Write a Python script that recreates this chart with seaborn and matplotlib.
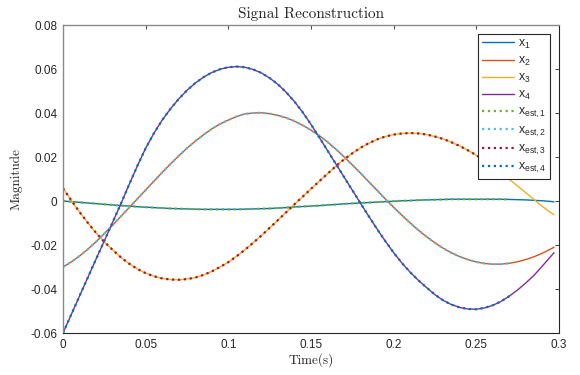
import matplotlib
matplotlib.use("Agg")
import matplotlib.pyplot as plt
import seaborn as sns

# sample times (s): every 5 ms, last sample at 0.297 s
t = [round(i * 0.005, 3) for i in range(60)] + [0.297]

x1 = [0.0000, -0.0003, -0.0006, -0.0009, -0.0012, -0.0015, -0.0018, -0.0021, -0.0023, -0.0026,
      -0.0028, -0.0030, -0.0032, -0.0034, -0.0035, -0.0036, -0.0037, -0.0038, -0.0038, -0.0038,
      -0.0038, -0.0038, -0.0037, -0.0036, -0.0035, -0.0034, -0.0032, -0.0030, -0.0027, -0.0025,
      -0.0023, -0.0021, -0.0018, -0.0016, -0.0013, -0.0011, -0.0009, -0.0007, -0.0005, -0.0003,
      -0.0001, 0.0001, 0.0002, 0.0004, 0.0005, 0.0006, 0.0007, 0.0008, 0.0008, 0.0008,
      0.0008, 0.0008, 0.0008, 0.0008, 0.0007, 0.0006, 0.0005, 0.0003, 0.0001, -0.0002,
      -0.0004]

x2 = [-0.0300, -0.0277, -0.0250, -0.0219, -0.0185, -0.0148, -0.0110, -0.0070, -0.0030, 0.0010,
      0.0050, 0.0090, 0.0130, 0.0168, 0.0205, 0.0240, 0.0272, 0.0301, 0.0328, 0.0350,
      0.0368, 0.0384, 0.0396, 0.0400, 0.0401, 0.0397, 0.0389, 0.0378, 0.0363, 0.0344,
      0.0322, 0.0297, 0.0268, 0.0236, 0.0201, 0.0164, 0.0126, 0.0087, 0.0048, 0.0009,
      -0.0029, -0.0065, -0.0100, -0.0133, -0.0163, -0.0190, -0.0215, -0.0236, -0.0253, -0.0267,
      -0.0277, -0.0284, -0.0287, -0.0287, -0.0283, -0.0276, -0.0266, -0.0253, -0.0237, -0.0218,
      -0.0210]

x3 = [0.0058, 0.0003, -0.0050, -0.0099, -0.0145, -0.0186, -0.0222, -0.0256, -0.0285, -0.0309,
      -0.0328, -0.0342, -0.0352, -0.0357, -0.0358, -0.0355, -0.0348, -0.0336, -0.0320, -0.0300,
      -0.0278, -0.0251, -0.0222, -0.0190, -0.0157, -0.0122, -0.0087, -0.0051, -0.0015, 0.0020,
      0.0055, 0.0090, 0.0124, 0.0158, 0.0189, 0.0217, 0.0242, 0.0263, 0.0280, 0.0293,
      0.0302, 0.0307, 0.0309, 0.0307, 0.0302, 0.0293, 0.0282, 0.0267, 0.0250, 0.0230,
      0.0208, 0.0183, 0.0157, 0.0128, 0.0098, 0.0068, 0.0037, 0.0006, -0.0025, -0.0053,
      -0.0062]

x4 = [-0.0600, -0.0516, -0.0432, -0.0348, -0.0264, -0.0181, -0.0097, -0.0013, 0.0075, 0.0160,
      0.0240, 0.0308, 0.0368, 0.0419, 0.0464, 0.0503, 0.0536, 0.0563, 0.0584, 0.0599,
      0.0608, 0.0611, 0.0608, 0.0598, 0.0582, 0.0559, 0.0530, 0.0494, 0.0452, 0.0403,
      0.0348, 0.0289, 0.0229, 0.0169, 0.0109, 0.0049, -0.0011, -0.0070, -0.0128, -0.0183,
      -0.0235, -0.0282, -0.0324, -0.0361, -0.0394, -0.0426, -0.0452, -0.0471, -0.0484, -0.0491,
      -0.0492, -0.0486, -0.0474, -0.0456, -0.0432, -0.0404, -0.0372, -0.0337, -0.0295, -0.0252,
      -0.0235]

# the estimates follow the signals up to t = 0.27 s
n_est = 55

signals = [x1, x2, x3, x4]
labels = ["x$_{1}$", "x$_{2}$", "x$_{3}$", "x$_{4}$"]
est_labels = ["x$_{est,1}$", "x$_{est,2}$", "x$_{est,3}$", "x$_{est,4}$"]
colors = ["#0072BD", "#D95319", "#EDB120", "#7E2F8E"]
est_colors = ["#77AC30", "#4DBEEE", "#A2142F", "#0072BD"]

sns.set_style("white")
plt.rcParams.update({
    "font.family": ["Liberation Sans", "DejaVu Sans"],
    "mathtext.default": "regular",
    "axes.unicode_minus": False,
    "xtick.direction": "in",
    "ytick.direction": "in",
    "xtick.top": True,
    "ytick.right": True,
    "xtick.major.size": 3,
    "ytick.major.size": 3,
    "xtick.major.width": 0.6,
    "ytick.major.width": 0.6,
    "xtick.color": "#262626",
    "ytick.color": "#262626",
})

fig = plt.figure(figsize=(5.8, 3.75), dpi=100)
ax = fig.add_axes([63 / 580, 1 - 333 / 375, 496 / 580, 308 / 375])

for y, lab, c in zip(signals, labels, colors):
    sns.lineplot(x=t, y=y, color=c, label=lab, linewidth=1.0, ax=ax)
for y, lab, c in zip(signals, est_labels, est_colors):
    sns.lineplot(x=t[:n_est], y=y[:n_est], color=c, label=lab,
                 linewidth=1.6, linestyle=":", ax=ax)

ax.set_xlim(0, 0.3)
ax.set_ylim(-0.06, 0.08)
ax.set_xticks([0, 0.05, 0.1, 0.15, 0.2, 0.25, 0.3])
ax.set_xticklabels(["0", "0.05", "0.1", "0.15", "0.2", "0.25", "0.3"])
ax.set_yticks([-0.06, -0.04, -0.02, 0, 0.02, 0.04, 0.06, 0.08])
ax.set_yticklabels(["-0.06", "-0.04", "-0.02", "0", "0.02", "0.04", "0.06", "0.08"])
ax.tick_params(labelsize=8.5, pad=4)

for side in ["bottom", "right"]:
    ax.spines[side].set_color("#262626")
    ax.spines[side].set_linewidth(0.8)
for side in ["left", "top"]:
    ax.spines[side].set_color("#8a8a8a")
    ax.spines[side].set_linewidth(1.0)

ax.set_title("Signal Reconstruction", family="cmr10", fontsize=11, pad=5)
ax.set_xlabel("Time(s)", family="cmr10", fontsize=9.5, labelpad=2)
ax.set_ylabel("Magnitude", family="cmr10", fontsize=9.5, labelpad=6)

leg = ax.legend(loc="upper right", bbox_to_anchor=(550 / 580, 1 - 34 / 375),
                bbox_transform=fig.transFigure, fontsize=8.8, frameon=True,
                fancybox=False, framealpha=1, edgecolor="#262626",
                handlelength=2.65, handletextpad=0.3, labelspacing=0.33,
                borderpad=0.3, borderaxespad=0)
leg.get_frame().set_linewidth(0.8)

fig.savefig("out.png", dpi=100)
